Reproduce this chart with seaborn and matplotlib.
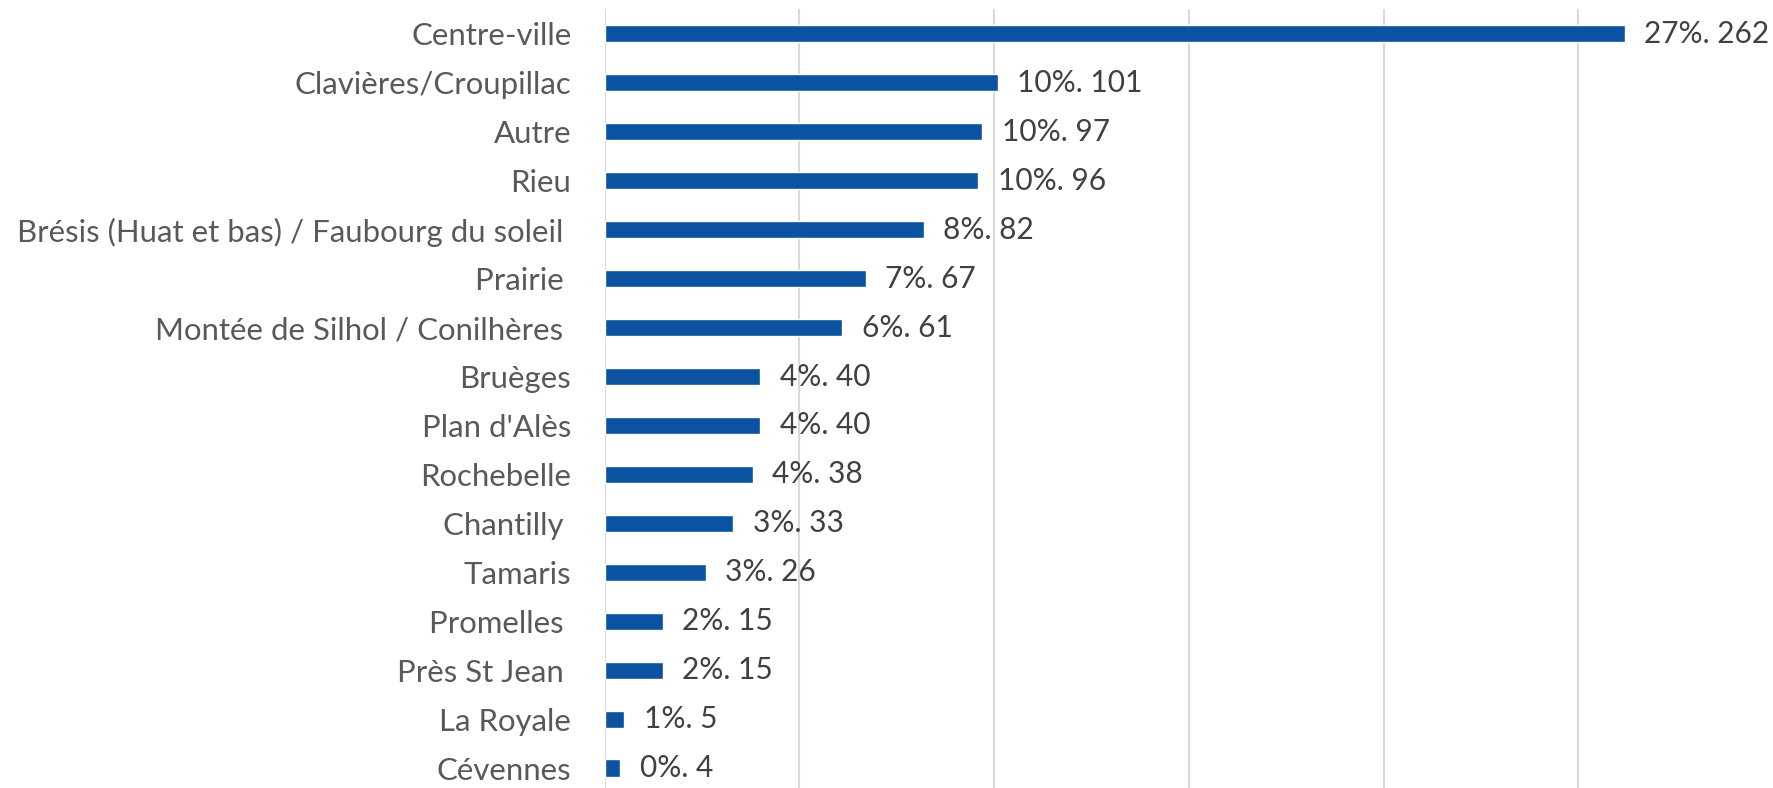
import pandas as pd
import matplotlib.pyplot as plt
import seaborn as sns

# Quartiers et effectifs
quartiers = ["Centre-ville", "Clavières/Croupillac", "Autre", "Rieu",
             "Brésis (Huat et bas) / Faubourg du soleil ", "Prairie ",
             "Montée de Silhol / Conilhères ", "Bruèges", "Plan d'Alès",
             "Rochebelle", "Chantilly ", "Tamaris", "Promelles ",
             "Près St Jean ", "La Royale", "Cévennes"]
effectifs = [262, 101, 97, 96, 82, 67, 61, 40, 40, 38, 33, 26, 15, 15, 5, 4]
pourcents = [27, 10, 10, 10, 8, 7, 6, 4, 4, 4, 3, 3, 2, 2, 1, 0]

df = pd.DataFrame({"quartier": quartiers, "n": effectifs, "pct": pourcents})

sns.set_style("white")
plt.rcParams['font.family'] = ['Lato', 'DejaVu Sans']

fig = plt.figure(figsize=(17.73, 7.88), dpi=100)
ax = fig.add_axes([0.341, -0.0057, 0.659, 0.9937])

sns.barplot(data=df, x="n", y="quartier", orient="h", color="#0B52A0",
            width=0.35, saturation=1, ax=ax)

ax.set_xlim(0, 300)
ax.set_ylim(15.5, -0.5)
ax.set_xticks([0, 50, 100, 150, 200, 250])
ax.xaxis.grid(True, color="#d9d9d9", linewidth=1.5)
ax.set_axisbelow(True)
ax.set_xticklabels([])
ax.tick_params(axis="x", length=0)
ax.tick_params(axis="y", length=0, pad=24, labelsize=22.4, labelcolor="#595959")
ax.set_xlabel("")
ax.set_ylabel("")
for s in ax.spines.values():
    s.set_visible(False)

# Etiquettes de donnees
for i, (n, p) in enumerate(zip(effectifs, pourcents)):
    ax.text(n + 5, i, f"{p}%. {n}", va="center", ha="left",
            fontsize=21.5, color="#404040")

plt.savefig("out.png", dpi=100)
